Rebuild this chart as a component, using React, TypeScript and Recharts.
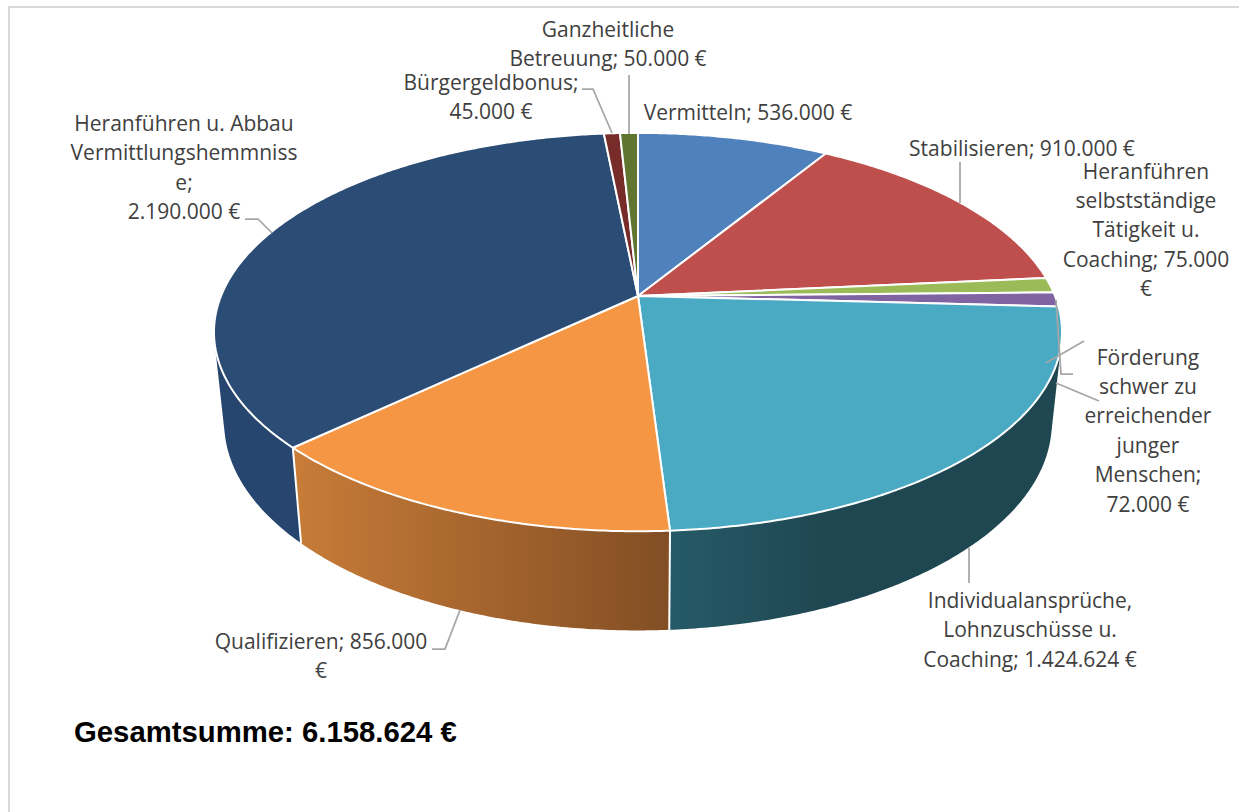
import React from "react";
import { Pie, PieChart } from "recharts";

const categories = [
  "Vermitteln",
  "Stabilisieren",
  "Heranführen selbstständige Tätigkeit u. Coaching",
  "Förderung schwer zu erreichender junger Menschen",
  "Individualansprüche, Lohnzuschüsse u. Coaching",
  "Qualifizieren",
  "Heranführen u. Abbau Vermittlungshemmnisse",
  "Bürgergeldbonus",
  "Ganzheitliche Betreuung",
];
const values = [536000, 910000, 75000, 72000, 1424624, 856000, 2190000, 45000, 50000];
const faceColors = [
  "#4f81bd",
  "#be4f4c",
  "#9bbb59",
  "#8064a2",
  "#4aaac4",
  "#f59644",
  "#2b4c75",
  "#772c2a",
  "#5f7530",
];
// left/right ends of each side wall gradient
const wallStart = ["#3b618e", "#8f3b39", "#748c43", "#60497a", "#265a68", "#c87c38", "#27466f", "#772c2a", "#5f7530"];
const wallEnd = ["#3b618e", "#8f3b39", "#748c43", "#60497a", "#1f4751", "#824e24", "#26436b", "#772c2a", "#5f7530"];
const wallMidStop = [1, 1, 1, 1, 0.4, 1, 1, 1, 1];

const labelLines = [
  ["Vermitteln; 536.000 €"],
  ["Stabilisieren; 910.000 €"],
  ["Heranführen", "selbstständige", "Tätigkeit u.", "Coaching; 75.000", "€"],
  ["Förderung", "schwer zu", "erreichender", "junger", "Menschen;", "72.000 €"],
  ["Individualansprüche,", "Lohnzuschüsse u.", "Coaching; 1.424.624 €"],
  ["Qualifizieren; 856.000", "€"],
  ["Heranführen u. Abbau", "Vermittlungshemmniss", "e;", "2.190.000 €"],
  ["Bürgergeldbonus;", "45.000 €"],
  ["Ganzheitliche", "Betreuung; 50.000 €"],
];

const total = "Gesamtsumme: 6.158.624 €";

const data = categories.map((name, i) => ({ name, value: values[i] }));

// where the labels sit and how their leader lines run
const labelLayout = [
  { x: 748, y: 120, leaders: [] },
  { x: 1022, y: 155.5, leaders: ["960,162 960,203"] },
  { x: 1146, y: 178.5, leaders: [] },
  {
    x: 1148,
    y: 364.5,
    leaders: ["1056,300 1061,374 1073,374", "1046,363 1084,341", "1056,383 1099,401"],
  },
  { x: 1030, y: 608, leaders: ["969,548 969,583"] },
  { x: 321, y: 649, leaders: ["432,649 445,649 460,610"] },
  { x: 184, y: 131, leaders: ["245,219 258,219 272,233"] },
  { x: 491, y: 90, leaders: ["582,89 593,89 612,133"] },
  { x: 608, y: 37, leaders: ["629,75 629,134"] },
];
const LINE_HEIGHT = 29.4;

// perspective of the tilted disc
const TILT = 0.181;
const FACE_Y = 0.462;
const BASE_X = 0.976;
const BASE_Y = 0.482;
const BASE_DROP = 89;

type Pt = [number, number];

function onFace(cx: number, cy: number, r: number, deg: number): Pt {
  const a = (deg * Math.PI) / 180;
  const X = Math.cos(a);
  const Y = -Math.sin(a);
  const w = 1 - TILT * Y;
  return [cx + (r * X) / w, cy + (r * FACE_Y * Y) / w];
}

function onBase(cx: number, cy: number, r: number, deg: number): Pt {
  const a = (deg * Math.PI) / 180;
  const X = Math.cos(a);
  const Y = -Math.sin(a);
  const w = 1 - TILT * Y;
  return [cx + (r * BASE_X * X) / w, cy + BASE_DROP + (r * BASE_Y * Y) / w];
}

function sampleAngles(start: number, end: number) {
  const n = Math.max(2, Math.ceil(Math.abs(end - start) * 2));
  return Array.from({ length: n + 1 }, (_, i) => start + ((end - start) * i) / n);
}

const toPath = (pts: Pt[]) =>
  "M" + pts.map((p) => `${p[0].toFixed(2)} ${p[1].toFixed(2)}`).join("L") + "Z";

function FaceSlice(props: any) {
  const { cx, cy, outerRadius, startAngle, endAngle, index } = props;
  const arc = sampleAngles(startAngle, endAngle).map((d) => onFace(cx, cy, outerRadius, d));
  return (
    <path
      d={toPath([[cx, cy], ...arc])}
      fill={faceColors[index]}
      stroke="#ffffff"
      strokeWidth={2}
      strokeLinejoin="round"
    />
  );
}

function WallSlice(props: any) {
  const { cx, cy, outerRadius, startAngle, endAngle, index } = props;
  const angles = sampleAngles(startAngle, endAngle);
  // every step is its own quad, wound the same way, so the fill is their union
  const quads = angles.slice(1).map((d, i) => {
    const q: Pt[] = [
      onFace(cx, cy, outerRadius, angles[i]),
      onFace(cx, cy, outerRadius, d),
      onBase(cx, cy, outerRadius, d),
      onBase(cx, cy, outerRadius, angles[i]),
    ];
    const area = q.reduce((s, p, j) => {
      const n = q[(j + 1) % 4];
      return s + p[0] * n[1] - n[0] * p[1];
    }, 0);
    return toPath(area < 0 ? q.reverse() : q);
  });
  const a0 = onFace(cx, cy, outerRadius, startAngle);
  const b0 = onBase(cx, cy, outerRadius, startAngle);
  // only seams on the near side of the disc can be seen
  const showSeam = Math.sin((startAngle * Math.PI) / 180) < -0.3;
  const gradId = `wall-${index}`;
  return (
    <g>
      <defs>
        <linearGradient id={gradId} x1="0" y1="0" x2="1" y2="0">
          <stop offset="0" stopColor={wallStart[index]} />
          <stop offset={wallMidStop[index]} stopColor={wallEnd[index]} />
        </linearGradient>
      </defs>
      <path d={quads.join("")} fill={`url(#${gradId})`} fillRule="nonzero" />
      {showSeam && <line x1={a0[0]} y1={a0[1]} x2={b0[0]} y2={b0[1]} stroke="#ffffff" strokeWidth={2} />}
    </g>
  );
}

function SliceLabel(props: any) {
  const { index } = props;
  const spot = labelLayout[index];
  return (
    <g>
      {spot.leaders.map((pts) => (
        <polyline key={pts} points={pts} fill="none" stroke="#a6a6a6" strokeWidth={1.75} />
      ))}
      <text
        textAnchor="middle"
        fontFamily="'Open Sans', sans-serif"
        fontSize={21}
        fill="#404040"
      >
        {labelLines[index].map((line, i) => (
          <tspan key={line} x={spot.x} y={spot.y + i * LINE_HEIGHT}>
            {line}
          </tspan>
        ))}
      </text>
    </g>
  );
}

export default function App() {
  return (
    <div style={{ position: "absolute", left: 0, top: 0, width: 1239, height: 812, background: "#fff", overflow: "hidden" }}>
      <div
        style={{
          position: "absolute",
          left: 8,
          top: 6,
          width: 1231,
          height: 806,
          borderLeft: "2px solid #d9d9d9",
          borderTop: "2px solid #d9d9d9",
        }}
      />
      <div style={{ position: "absolute", left: 0, top: 0 }}>
        <PieChart width={1239} height={812} margin={{ top: 0, right: 0, bottom: 0, left: 0 }}>
          <Pie
            data={data}
            dataKey="value"
            nameKey="name"
            cx={638}
            cy={296}
            outerRadius={417}
            startAngle={90}
            endAngle={-270}
            shape={WallSlice}
            stroke="none"
            isAnimationActive={false}
          />
          <Pie
            data={data}
            dataKey="value"
            nameKey="name"
            cx={638}
            cy={296}
            outerRadius={417}
            startAngle={90}
            endAngle={-270}
            shape={FaceSlice}
            label={SliceLabel}
            labelLine={false}
            isAnimationActive={false}
          />
        </PieChart>
      </div>
      <div
        style={{
          position: "absolute",
          left: 74,
          top: 715,
          fontFamily: "'Liberation Sans', Arial, sans-serif",
          fontWeight: 700,
          fontSize: 29.3,
          lineHeight: "34px",
          color: "#000",
          whiteSpace: "nowrap",
        }}
      >
        {total}
      </div>
    </div>
  );
}
